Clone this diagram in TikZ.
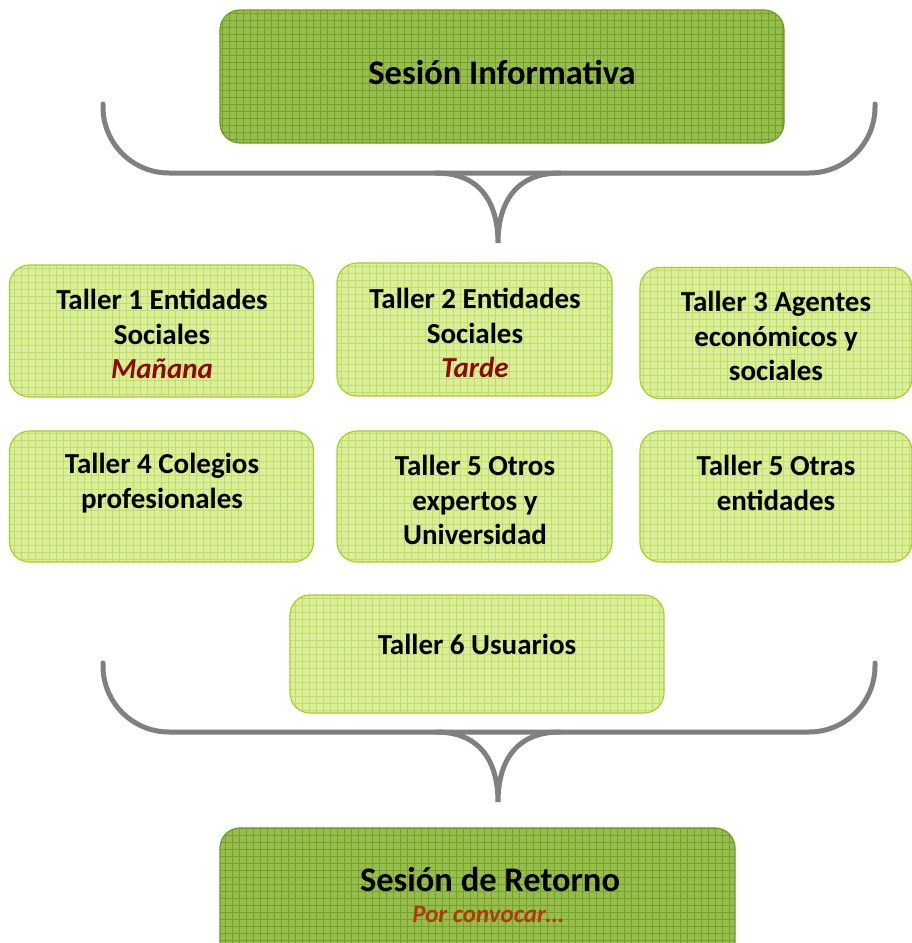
\documentclass[tikz,border=0pt]{standalone}
\usepackage{fontspec}
\setmainfont{Carlito}

\definecolor{darkfill}{RGB}{150,190,76}
\definecolor{darkgrid}{RGB}{118,160,44}
\definecolor{darkedge}{RGB}{110,154,30}
\definecolor{lightfill}{RGB}{218,238,156}
\definecolor{lightgrid}{RGB}{190,222,100}
\definecolor{lightedge}{RGB}{166,208,44}
\definecolor{bracegray}{RGB}{128,128,128}
\definecolor{whenred}{RGB}{140,10,10}
\definecolor{pendred}{RGB}{176,58,12}

\tikzset{
  sesion/.style={draw=darkedge, line width=1.2pt, fill=darkfill, rounded corners=20pt,
    path picture={\draw[darkgrid, line width=0.7pt]
      (path picture bounding box.south west) grid[step=7pt] (path picture bounding box.north east);}},
  taller/.style={draw=lightedge, line width=1.2pt, fill=lightfill, rounded corners=20pt,
    path picture={\draw[lightgrid, line width=0.6pt]
      (path picture bounding box.south west) grid[step=7pt] (path picture bounding box.north east);}},
  boxtext/.style={align=center, inner sep=0pt, font=\fontsize{29}{34.5}\selectfont\bfseries},
  bigtext/.style={align=center, inner sep=0pt, font=\fontsize{34.5}{40}\selectfont\bfseries},
  brace/.style={draw=bracegray, line width=5pt, line cap=round, rounded corners=66pt},
}

\begin{document}
\begin{tikzpicture}[x=1pt,y=-1pt]
  \useasboundingbox (0,0) rectangle (912,943);

  % sessions
  \node[sesion, minimum width=564pt, minimum height=133pt] (info) at (502,76.5) {};
  \node[bigtext] (infotxt) at (502,72) {Sesión Informativa};

  \node[sesion, minimum width=515pt, minimum height=140pt] (retorno) at (477.5,898) {};
  \node[bigtext] (retornotxt) at (490,880) {Sesión de Retorno};
  \node[boxtext, font=\fontsize{25}{30}\selectfont\bfseries\itshape, text=pendred] (porconv) at (488,914) {Por convocar…};

  % row 1
  \node[taller, minimum width=304pt, minimum height=132pt] (t1) at (161.5,331) {};
  \node[boxtext] (t1txt) at (162,334) {Taller 1 Entidades\\Sociales\\\textcolor{whenred}{\itshape Mañana}};

  \node[taller, minimum width=275pt, minimum height=133pt] (t2) at (474.5,329.5) {};
  \node[boxtext] (t2txt) at (475,333) {Taller 2 Entidades\\Sociales\\\textcolor{whenred}{\itshape Tarde}};

  \node[taller, minimum width=272pt, minimum height=131pt] (t3) at (776,333) {};
  \node[boxtext] (t3txt) at (776,336) {Taller 3 Agentes\\económicos y\\sociales};

  % row 2
  \node[taller, minimum width=304pt, minimum height=131pt] (t4) at (161.5,496.5) {};
  \node[boxtext] (t4txt) at (162,483) {Taller 4 Colegios\\profesionales};

  \node[taller, minimum width=275pt, minimum height=131pt] (t5) at (474.5,496.5) {};
  \node[boxtext] (t5txt) at (475,500) {Taller 5 Otros\\expertos y\\Universidad};

  \node[taller, minimum width=272pt, minimum height=131pt] (t5b) at (776,496.5) {};
  \node[boxtext] (t5btxt) at (776,483) {Taller 5 Otras\\entidades};

  \node[taller, minimum width=374pt, minimum height=118pt] (t6) at (477,654) {};
  \node[boxtext] (t6txt) at (477,644) {Taller 6 Usuarios};

  % braces
  \coordinate (toptip) at (498,243);
  \coordinate (bottip) at (498,802);

  \draw[brace] (103,104) -- (103,173) -- (875,173) -- (875,104);
  \draw[bracegray, line width=5pt, line cap=round]
    (436,173) .. controls (482,173) and (498,205) .. (toptip)
    .. controls (498,205) and (514,173) .. (560,173);

  \draw[brace] (103,663) -- (103,732) -- (875,732) -- (875,663);
  \draw[bracegray, line width=5pt, line cap=round]
    (436,732) .. controls (482,732) and (498,764) .. (bottip)
    .. controls (498,764) and (514,732) .. (560,732);
\end{tikzpicture}
\end{document}
